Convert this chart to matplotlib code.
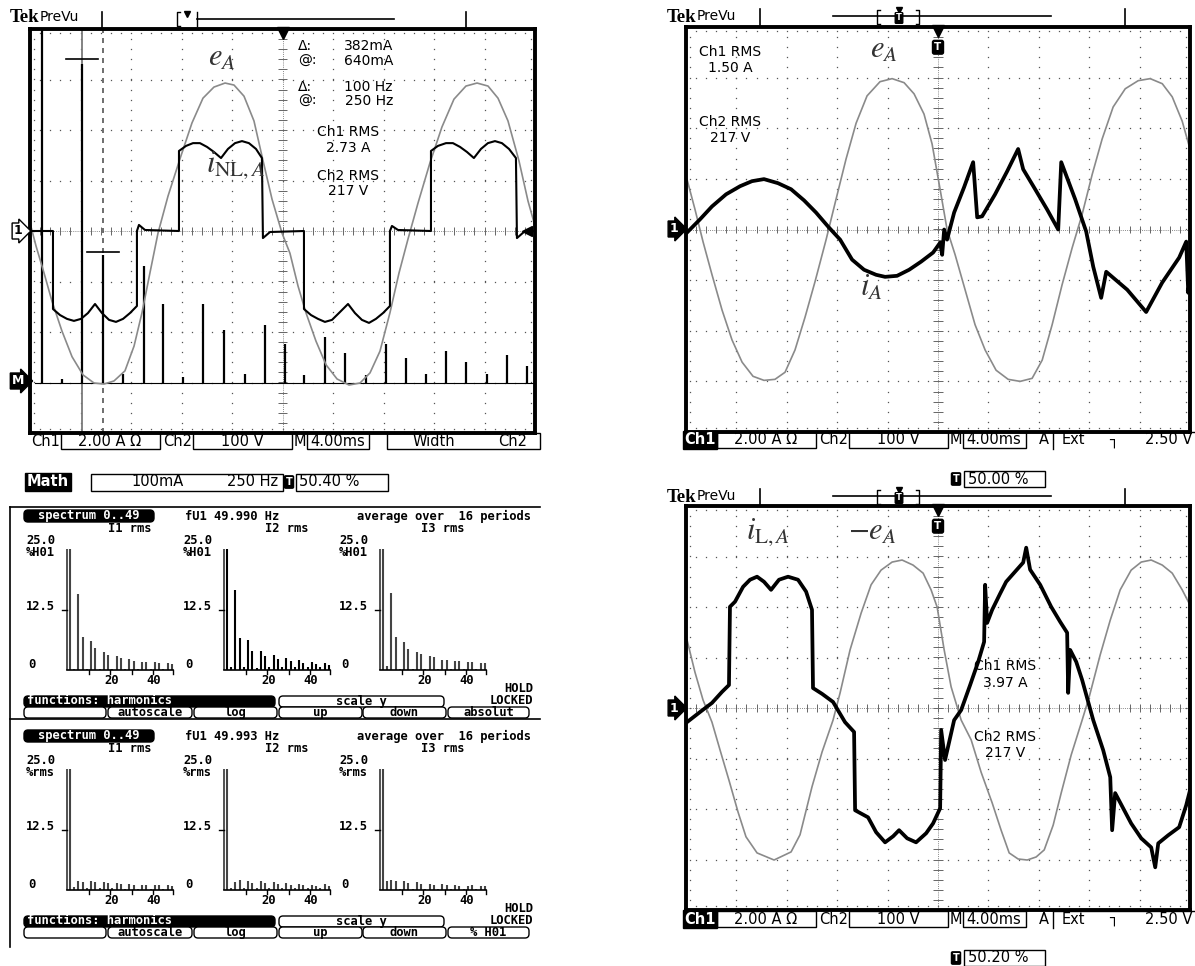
import numpy as np
import matplotlib
matplotlib.use("Agg")
import matplotlib.pyplot as plt
from matplotlib.patches import Rectangle, FancyBboxPatch

plt.rcParams['mathtext.fontset'] = 'stix'

W, H = 1195, 966

# ---------------- top left scope: 4 ms/div, Ch1 2 A/div, Ch2 100 V/div, math 100 mA/div
tl_e_t = [0.0, 0.48, 1.11, 1.74, 2.53, 3.33, 4.20, 5.07, 5.86, 6.65, 7.52, 8.24, 8.87, 9.50,
          10.14, 10.93, 11.88, 12.83, 13.70, 14.57, 15.45, 16.16, 16.95, 17.74, 18.46, 19.17,
          19.96, 20.59, 21.23, 21.86, 22.65, 23.45, 24.32, 25.27, 26.14, 26.93, 27.72, 28.51,
          29.23, 29.94, 30.73, 31.68, 32.63, 33.58, 34.53, 35.41, 36.28, 37.07, 37.86, 38.73,
          39.45, 40.0]
tl_e_v = [16, -30, -83, -139, -198, -249, -285, -301, -303, -297, -277, -228, -162, -83,
          -4, 69, 143, 214, 263, 285, 293, 289, 267, 218, 139, 63,
          -4, -44, -109, -162, -218, -265, -293, -305, -301, -281, -238, -162,
          -83, -16, 55, 135, 206, 261, 287, 293, 287, 263, 218, 139,
          59, 10]

tl_i_t = [0.0, 1.82, 1.82, 2.38, 2.93, 3.48, 4.04, 4.59, 5.15, 5.70, 6.26, 6.81, 7.37, 7.92,
          8.47, 8.47, 8.63, 9.11, 11.80, 11.80, 12.36, 12.91, 13.46, 14.02, 14.57, 15.13,
          15.68, 16.24, 16.79, 17.34, 17.90, 18.37, 18.45, 19.01, 21.70, 21.70, 22.26, 22.81,
          23.36, 23.92, 24.47, 25.19, 25.74, 26.29, 26.85, 27.40, 27.96, 28.51, 28.51, 28.67,
          29.15, 31.76, 31.76, 32.31, 32.95, 33.50, 34.06, 34.61, 35.16, 35.72, 36.27, 36.83,
          37.38, 37.94, 38.49, 38.57, 39.12, 40.0]
tl_i_a = [0.0, 0.0, -3.09, -3.33, -3.48, -3.56, -3.48, -3.25, -2.89, -3.25, -3.52, -3.60, -3.48, -3.25,
          -2.97, 0.0, 0.24, 0.04, 0.0, 3.17, 3.37, 3.48, 3.48, 3.33, 3.13, 2.89,
          3.25, 3.48, 3.56, 3.48, 3.25, 2.89, -0.28, -0.04, 0.0, -3.09, -3.33, -3.48,
          -3.60, -3.52, -3.25, -2.89, -3.25, -3.52, -3.64, -3.48, -3.25, -2.97, 0.0, 0.20,
          0.04, 0.0, 3.17, 3.37, 3.48, 3.48, 3.33, 3.13, 2.89, 3.25, 3.48, 3.56,
          3.48, 3.25, 2.89, -0.28, -0.04, 0.0]

# FFT lines of the math channel (screen position in div, amplitude in mA)
tl_fft_div = [0.23, 0.63, 1.03, 1.45, 1.84, 2.25, 2.63, 3.03, 3.43, 3.84, 4.26, 4.65, 5.05,
              5.43, 5.84, 6.24, 6.65, 7.05, 7.45, 7.84, 8.24, 8.63, 9.05, 9.45, 9.84]
tl_fft_ma = [800, 6, 630, 253, 16, 230, 155, 10, 155, 103, 16, 113, 77,
             14, 91, 59, 14, 77, 48, 16, 63, 40, 16, 55, 32]
cursor_div = [1.03, 1.45]
cursor_ma = [640, 258]

# ---------------- top right scope
tr_e_t = [0.08, 0.71, 1.35, 2.06, 2.86, 3.65, 4.45, 5.32, 6.19, 7.06, 7.86, 8.65, 9.45, 10.24,
          11.12, 11.91, 12.70, 13.50, 14.37, 15.40, 16.36, 17.31, 18.10, 18.89, 19.53, 20.17,
          20.72, 21.36, 22.15, 22.94, 23.74, 24.61, 25.57, 26.52, 27.47, 28.27, 29.06, 29.85,
          30.65, 31.44, 32.24, 33.03, 33.90, 34.86, 35.89, 36.84, 37.80, 38.59, 39.38, 40.0]
tr_e_v = [99, 40, -24, -89, -159, -218, -262, -290, -298, -296, -282, -238, -173, -103,
          -20, 60, 139, 210, 264, 292, 298, 290, 268, 228, 169, 79,
          0, -50, -119, -188, -238, -278, -296, -300, -294, -258, -188, -109,
          -36, 30, 109, 179, 242, 278, 294, 298, 288, 262, 214, 159]

tr_i_t = [0.08, 1.11, 2.06, 3.18, 4.29, 5.24, 6.19, 7.30, 8.34, 9.37, 10.32, 11.27, 12.23, 13.18,
          14.13, 15.09, 15.80, 16.75, 17.71, 18.66, 19.61, 20.17, 20.33, 20.49, 20.72, 21.28,
          22.07, 22.79, 23.11, 23.50, 24.53, 25.49, 26.36, 26.76, 27.71, 28.66, 29.54, 29.78,
          30.89, 31.76, 32.32, 32.95, 33.35, 35.02, 36.52, 37.79, 39.14, 39.70, 39.86, 40.0]
tr_i_a = [-0.12, 0.40, 0.91, 1.39, 1.71, 1.91, 1.99, 1.83, 1.59, 1.15, 0.67, 0.12, -0.40, -1.19,
          -1.59, -1.79, -1.87, -1.83, -1.59, -1.27, -0.91, -0.52, -1.00, 0.0, -0.40, 0.67,
          1.67, 2.66, 0.48, 0.52, 1.39, 2.30, 3.18, 2.38, 1.59, 0.79, 0.0, 2.66,
          1.19, -0.08, -1.47, -2.70, -1.67, -2.38, -3.26, -2.10, -1.11, -0.48, -2.50, -1.87]

# ---------------- bottom right scope
br_e_t = [0.08, 0.71, 1.35, 2.06, 2.70, 3.41, 4.13, 4.76, 5.64, 6.99, 8.34, 9.05, 10.00, 10.80,
          11.67, 12.23, 13.02, 13.90, 14.69, 15.48, 16.36, 17.15, 18.02, 18.82, 19.45, 19.93,
          20.49, 21.04, 21.84, 22.63, 23.42, 24.30, 25.01, 25.65, 26.36, 27.08, 27.79, 28.43,
          29.14, 29.78, 30.57, 31.44, 32.00, 32.87, 33.67, 34.46, 35.33, 36.13, 36.92, 37.80,
          38.59, 39.38, 40.0]
br_e_v = [135, 71, 16, -28, -83, -143, -206, -255, -287, -301, -285, -251, -156, -87,
          -24, 30, 115, 188, 244, 273, 289, 293, 283, 267, 234, 200,
          115, 42, -24, -63, -127, -188, -242, -287, -299, -301, -295, -281,
          -232, -168, -93, -24, 22, 105, 174, 234, 273, 289, 293, 283,
          267, 234, 204]

br_i_t = [0.08, 1.11, 2.06, 2.86, 3.41, 3.49, 3.89, 4.53, 5.08, 5.64, 6.19, 6.75, 7.38, 8.10,
          8.89, 9.53, 10.00, 10.08, 10.80, 11.67, 12.62, 13.34, 13.42, 14.45, 15.09, 15.80,
          16.44, 16.91, 17.55, 18.26, 19.06, 19.61, 20.17, 20.25, 20.56, 21.28, 21.84, 22.55,
          23.19, 23.66, 23.74, 23.90, 24.30, 24.93, 25.41, 26.12, 26.76, 27.00, 27.31, 28.11,
          28.98, 29.70, 30.25, 30.33, 30.49, 30.97, 31.44, 32.32, 33.11, 33.67, 33.82, 34.06,
          34.78, 35.33, 36.13, 36.92, 37.24, 37.48, 38.27, 39.14, 39.70, 40.0]
br_i_a = [-0.56, -0.16, 0.20, 0.64, 0.91, 4.01, 4.21, 4.80, 5.08, 5.20, 5.00, 4.68, 5.08, 5.20,
          5.08, 4.61, 3.89, 0.79, 0.56, 0.24, -0.56, -0.95, -4.05, -4.33, -4.92, -5.32,
          -5.08, -4.84, -5.16, -5.32, -4.96, -4.57, -3.97, -0.87, -2.06, -0.48, -0.08, 0.91,
          1.83, 2.62, 4.88, 3.37, 3.89, 4.53, 5.00, 5.40, 5.76, 6.35, 5.48, 4.88,
          4.01, 3.41, 2.98, 0.60, 2.30, 1.83, 1.11, -0.48, -1.67, -2.74, -4.84, -3.37,
          -4.05, -4.57, -5.16, -5.52, -6.31, -5.36, -5.04, -4.72, -3.85, -3.26]

# ---------------- harmonic analyser (% of H01 / % of rms)
orders = [1, 3, 5, 7, 9, 11, 13, 15, 17, 19, 21, 23, 25, 27, 29, 31, 33, 35, 37, 39, 41, 43, 45, 47, 49]
before_i1 = [100, 0.3, 15.7, 6.8, 0.2, 5.9, 4.5, 0.2, 3.8, 3.1, 0.2, 2.8, 2.5, 0.2, 2.3, 1.9, 0.2, 1.7, 1.6, 0.2, 1.6, 1.4, 0.2, 1.4, 1.2]
before_i2 = [100, 0.7, 16.6, 6.7, 0.7, 6.2, 4.0, 0.5, 4.0, 2.9, 0.7, 3.1, 2.2, 0.7, 2.5, 1.9, 0.7, 2.1, 1.4, 0.7, 1.7, 1.2, 0.7, 1.5, 1.0]
before_i3 = [100, 0.9, 16.0, 6.9, 0.3, 5.7, 4.3, 0.3, 3.7, 3.3, 0.3, 2.8, 2.6, 0.3, 2.1, 2.1, 0.3, 1.8, 1.8, 0.3, 1.6, 1.6, 0.3, 1.4, 1.4]
after_i1 = [100, 0.6, 1.9, 1.7, 0.4, 1.9, 1.7, 0.4, 1.7, 1.4, 0.4, 1.4, 1.2, 0.3, 1.2, 1.0, 0.3, 1.0, 1.0, 0.3, 1.0, 1.0, 0.3, 1.0, 0.8]
after_i2 = [100, 0.5, 1.6, 2.0, 0.5, 1.9, 1.5, 0.5, 1.8, 1.4, 0.5, 1.6, 1.2, 0.4, 1.4, 1.1, 0.4, 1.2, 1.0, 0.4, 1.1, 0.9, 0.4, 1.2, 0.8]
after_i3 = [100, 1.9, 2.0, 1.8, 0.3, 1.8, 1.5, 0.3, 1.6, 1.2, 0.3, 1.3, 1.1, 0.3, 1.2, 1.0, 0.3, 1.0, 0.9, 0.3, 0.9, 1.0, 0.3, 0.8, 0.8]

MS_DIV, A_DIV, V_DIV, MA_DIV = 4.0, 2.0, 100.0, 100.0

fig = plt.figure(figsize=(W / 100, H / 100), dpi=100)
fig.patch.set_facecolor('white')


def px_axes(x0, y0, x1, y1):
    return fig.add_axes([x0 / W, 1 - y1 / H, (x1 - x0) / W, (y1 - y0) / H])


def screen(ax, tmarker):
    ax.set_xlim(0, 10)
    ax.set_ylim(-4, 4)
    ax.set_xticks([])
    ax.set_yticks([])
    ax.set_facecolor('none')
    for s in ax.spines.values():
        s.set_linewidth(2.8)
    fx = np.arange(0, 10.001, 0.2)
    fy = np.arange(-4, 4.001, 0.2)
    dot = dict(ls='none', marker='s', ms=0.9, color='#555555', mew=0)
    for gx in [1, 2, 3, 4, 6, 7, 8, 9]:
        ax.plot(np.full_like(fy, gx), fy, **dot)
    for gy in [-3, -2, -1, 1, 2, 3]:
        ax.plot(fx, np.full_like(fx, gy), **dot)
    ax.plot(fx, np.full_like(fx, 3.93), **dot)
    ax.plot(fx, np.full_like(fx, -3.93), **dot)
    ax.plot(np.full_like(fy, 0.07), fy, **dot)
    ax.plot(np.full_like(fy, 9.93), fy, **dot)
    # centre cross with minor ticks
    ax.plot([0, 10], [0, 0], color='#888888', lw=0.7, ls=(0, (1, 1.2)))
    ax.plot([5, 5], [-4, 4], color='#888888', lw=0.7, ls=(0, (1, 1.2)))
    ax.vlines(fx, -0.07, 0.07, color='#666666', lw=0.7)
    ax.hlines(fy, 4.91, 5.09, color='#666666', lw=0.7)
    ax.plot([5], [3.93], marker='v', ms=8, color='black', clip_on=False)
    if tmarker:
        ax.text(5, 3.6, 'T', ha='center', va='center', color='white', fontsize=7.5,
                fontweight='bold', bbox=dict(boxstyle='round,pad=0.18', fc='black', ec='black'))


# ---- scope screens
ax1 = px_axes(30, 29, 535, 433)
screen(ax1, False)
ax1.axvline(cursor_div[0], color='#7a7a7a', lw=1.3)
ax1.axvline(cursor_div[1], color='#555555', lw=1.2, ls=(0, (3, 3)))
ax1.plot([0.1, 10], [-3, -3], color='black', lw=0.8)
ax1.vlines(tl_fft_div, -3, -3 + np.array(tl_fft_ma) / MA_DIV, color='black', lw=1.6)
for cx, cm in zip(cursor_div, cursor_ma):
    ax1.plot([cx - 0.32, cx + 0.32], [-3 + cm / MA_DIV] * 2, color='black', lw=1.2)
ax1.plot(np.array(tl_e_t) / MS_DIV, np.array(tl_e_v) / V_DIV, color='#8a8a8a', lw=1.2)
ax1.plot(np.array(tl_i_t) / MS_DIV, np.array(tl_i_a) / A_DIV, color='black', lw=1.5)
ax1.plot([9.85], [0], marker='<', ms=7, color='black')

ax2 = px_axes(686, 27, 1190, 432)
screen(ax2, True)
ax2.plot(np.array(tr_e_t) / MS_DIV, np.array(tr_e_v) / V_DIV, color='#8a8a8a', lw=1.2)
ax2.plot(np.array(tr_i_t) / MS_DIV, np.array(tr_i_a) / A_DIV, color='black', lw=2.7)

ax3 = px_axes(686, 506, 1190, 910)
screen(ax3, True)
ax3.plot(np.array(br_e_t) / MS_DIV, np.array(br_e_v) / V_DIV, color='#8a8a8a', lw=1.2)
ax3.plot(np.array(br_i_t) / MS_DIV, np.array(br_i_a) / A_DIV, color='black', lw=2.7)

# ---- harmonic bar charts
panels = [(0, [before_i1, before_i2, before_i3], '%H01', 'absolut', '49.990'),
          (220, [after_i1, after_i2, after_i3], '%rms', '% H01', '49.993')]
axis_x = [68, 225, 381]
for dy, series, unit, lastbtn, f1 in panels:
    for k, vals in enumerate(series):
        ax = px_axes(axis_x[k] - 3, 549 + dy, axis_x[k] + 107, 670 + dy)
        ax.set_xlim(-1.36, 50.5)
        ax.set_ylim(0, 25)
        ax.axis('off')
        col = 'black' if (dy == 0 and k == 1) else '#444444'
        ax.vlines(orders, 0, vals, color=col, lw=1.5)
        ax.plot([-0.4, -0.4], [0, 25], color='#444444', lw=1.3)
        ax.plot([-0.4, 49.6], [0, 0], color='black', lw=1.2, clip_on=False)
        ax.plot([-2.6, -0.4], [12.5, 12.5], color='black', lw=1.0, clip_on=False)
        for tk in [10, 20, 30, 40, 49.6]:
            ax.plot([tk, tk], [0, -0.9], color='black', lw=1.0, clip_on=False)

bg = fig.add_axes([0, 0, 1, 1])
bg.set_xlim(0, W)
bg.set_ylim(H, 0)
bg.axis('off')
bg.set_facecolor('none')

SC = dict(family='DejaVu Sans', fontsize=10, color='black')
ROW = dict(family='DejaVu Sans', fontsize=10.5, color='black')
MONO = dict(family='DejaVu Sans Mono', fontsize=8.7, fontweight='bold', color='black')


def rect(x0, y0, x1, y1, fc='none', lw=1.0):
    bg.add_patch(Rectangle((x0, y0), x1 - x0, y1 - y0, fc=fc, ec='black', lw=lw))


def pill(x0, y0, x1, y1, fc):
    bg.add_patch(FancyBboxPatch((x0, y0), x1 - x0, y1 - y0, boxstyle='round,pad=0,rounding_size=4',
                                fc=fc, ec='black', lw=1.0))


def header(x0, yc):
    bg.text(x0, yc + 1, 'Tek', family='Liberation Serif', fontweight='bold', fontsize=13.5,
            ha='left', va='center')
    bg.text(x0 + 30, yc, 'PreVu', ha='left', va='center', **SC)


def chan_marker(x, y, s, dark):
    bg.text(x, y, s, ha='center', va='center', fontsize=9, fontweight='bold',
            color='white' if dark else 'black',
            bbox=dict(boxstyle='rarrow,pad=0.12', fc='black' if dark else 'white', ec='black', lw=1))


def t_icon(x, y):
    bg.text(x, y, 'T', ha='center', va='center', color='white', fontsize=7, fontweight='bold',
            bbox=dict(boxstyle='round,pad=0.12', fc='black', ec='black'))


# top-left header and readouts
header(10, 17)
bg.plot([102, 102], [12, 28], color='black', lw=1.2)
bg.plot([466, 466], [12, 28], color='black', lw=1.2)
bg.plot([197, 394], [19, 19], color='black', lw=1.2)
bg.plot([180, 177, 177, 180], [12, 12, 26, 26], color='black', lw=1.0)
bg.plot([197, 197], [12, 26], color='black', lw=1.0)
bg.plot([187], [14], marker='v', ms=5, color='black')

chan_marker(18, 231, '1', False)
chan_marker(18, 381, 'M', True)

for y, a, b in [(46, 'Δ:', '382mA'), (61, '@:', '640mA'), (87, 'Δ:', '100 Hz'), (101, '@:', '250 Hz')]:
    bg.text(298, y, a, ha='left', va='center', **SC)
    bg.text(393, y, b, ha='right', va='center', **SC)
for y, s in [(132, 'Ch1 RMS'), (148, '2.73 A'), (176, 'Ch2 RMS'), (191, '217 V')]:
    bg.text(348, y, s, ha='center', va='center', **SC)
bg.text(222, 58, r'$e_A$', ha='center', va='center', fontsize=22, color='#333333')
bg.text(236, 165, r'$i_{\mathrm{NL},A}$', ha='center', va='center', fontsize=22, color='#333333')

bg.text(31, 441, 'Ch1', ha='left', va='center', **ROW)
rect(61, 433, 160, 449)
bg.text(110, 441, '2.00 A Ω', ha='center', va='center', **ROW)
bg.text(163, 441, 'Ch2', ha='left', va='center', **ROW)
rect(193, 433, 292, 449)
bg.text(242, 441, '100 V', ha='center', va='center', **ROW)
bg.text(294, 441, 'M', ha='left', va='center', **ROW)
rect(307, 433, 369, 449)
bg.text(338, 441, '4.00ms', ha='center', va='center', **ROW)
rect(387, 433, 540, 449)
bg.text(434, 441, 'Width', ha='center', va='center', **ROW)
bg.text(527, 441, 'Ch2', ha='right', va='center', **ROW)

bg.text(48, 482, 'Math', ha='center', va='center', color='white', fontsize=10.5, fontweight='bold',
        bbox=dict(boxstyle='square,pad=0.1', fc='black', ec='black'))
rect(91, 474, 283, 491)
bg.text(158, 482, '100mA', ha='center', va='center', **ROW)
bg.text(278, 482, '250 Hz', ha='right', va='center', **ROW)
t_icon(289, 482)
rect(296, 474, 388, 491)
bg.text(299, 482, '50.40 %', ha='left', va='center', **ROW)

# right scopes: header, marker, bottom readout rows
for y0, base, tpct in [(0, 27, '50.00 %'), (480, 506, '50.20 %')]:
    header(667, 16 + y0)
    bg.plot([760, 760], [9 + y0, 25 + y0], color='black', lw=1.2)
    bg.plot([1125, 1125], [9 + y0, 25 + y0], color='black', lw=1.2)
    bg.plot([833, 1051], [16 + y0, 16 + y0], color='black', lw=1.2)
    bg.plot([880, 877, 877, 880], [10 + y0, 10 + y0, 24 + y0, 24 + y0], color='black', lw=1.0)
    bg.plot([916, 919, 919, 916], [10 + y0, 10 + y0, 24 + y0, 24 + y0], color='black', lw=1.0)
    bg.plot([899], [10 + y0], marker='v', ms=4, color='black')
    bg.text(899, 18 + y0, 'T', ha='center', va='center', color='white', fontsize=6, fontweight='bold',
            bbox=dict(boxstyle='round,pad=0.1', fc='black', ec='black'))
    chan_marker(674, base + 202, '1', True)
    ry = base + 413
    bg.text(700, ry, 'Ch1', ha='center', va='center', color='white', fontsize=10.5, fontweight='bold',
            bbox=dict(boxstyle='square,pad=0.08', fc='black', ec='black'))
    rect(717, ry - 8, 816, ry + 8)
    bg.text(766, ry, '2.00 A Ω', ha='center', va='center', **ROW)
    bg.text(819, ry, 'Ch2', ha='left', va='center', **ROW)
    rect(849, ry - 8, 948, ry + 8)
    bg.text(898, ry, '100 V', ha='center', va='center', **ROW)
    bg.text(950, ry, 'M', ha='left', va='center', **ROW)
    rect(963, ry - 8, 1026, ry + 8)
    bg.text(994, ry, '4.00ms', ha='center', va='center', **ROW)
    bg.text(1039, ry, 'A', ha='left', va='center', **ROW)
    bg.plot([1053, 1053, 1195], [ry + 9, ry - 8, ry - 8], color='black', lw=1.0)
    bg.text(1062, ry, 'Ext', ha='left', va='center', **ROW)
    bg.text(1113, ry, '┐', ha='center', va='center', **ROW)
    bg.text(1192, ry, '2.50 V', ha='right', va='center', **ROW)
    ty = ry + 39
    t_icon(956, ty)
    rect(964, ty - 8, 1045, ty + 8)
    bg.text(968, ty, tpct, ha='left', va='center', **ROW)

for y, s in [(52, 'Ch1 RMS'), (68, '1.50 A'), (122, 'Ch2 RMS'), (138, '217 V')]:
    bg.text(730, y, s, ha='center', va='center', **SC)
bg.text(884, 50, r'$e_A$', ha='center', va='center', fontsize=22, color='#333333')
bg.text(871, 287, r'$i_A$', ha='center', va='center', fontsize=22, color='#333333')

for y, s in [(666, 'Ch1 RMS'), (683, '3.97 A'), (737, 'Ch2 RMS'), (753, '217 V')]:
    bg.text(1005, y, s, ha='center', va='center', **SC)
bg.text(768, 532, r'$i_{\mathrm{L},A}$', ha='center', va='center', fontsize=22, color='#333333')
bg.text(872, 532, r'$-e_A$', ha='center', va='center', fontsize=22, color='#333333')

# harmonic analyser frame and texts
bg.plot([10, 540], [507, 507], color='black', lw=1.2)
bg.plot([10, 540], [719, 719], color='black', lw=1.2)
bg.plot([10, 10], [507, 947], color='black', lw=1.2)
for dy, series, unit, lastbtn, f1 in panels:
    pill(24, 510 + dy, 154, 522 + dy, 'black')
    bg.text(89, 516 + dy, 'spectrum 0..49', ha='center', va='center', **dict(MONO, color='white'))
    bg.text(185, 516 + dy, 'fU1 ' + f1 + ' Hz', ha='left', va='center', **MONO)
    bg.text(531, 516 + dy, 'average over  16 periods', ha='right', va='center', **MONO)
    for k, name in enumerate(['I1 rms', 'I2 rms', 'I3 rms']):
        x = axis_x[k]
        bg.text(x + 62, 529 + dy, name, ha='center', va='center', **MONO)
        bg.text(x - 42, 541 + dy, '25.0', ha='left', va='center', **MONO)
        bg.text(x - 42, 553 + dy, unit, ha='left', va='center', **MONO)
        bg.text(x - 42, 606 + dy, '12.5', ha='left', va='center', **MONO)
        bg.text(x - 36, 664 + dy, '0', ha='center', va='center', **MONO)
        bg.text(x + 44, 680 + dy, '20', ha='center', va='center', **MONO)
        bg.text(x + 86, 680 + dy, '40', ha='center', va='center', **MONO)
    bg.text(533, 689 + dy, 'HOLD', ha='right', va='center', **MONO)
    bg.text(533, 701 + dy, 'LOCKED', ha='right', va='center', **MONO)
    pill(24, 696 + dy, 275, 707 + dy, 'black')
    bg.text(27, 701 + dy, 'functions: harmonics', ha='left', va='center', **dict(MONO, color='white'))
    pill(279, 696 + dy, 444, 707 + dy, 'white')
    bg.text(361, 701 + dy, 'scale y', ha='center', va='center', **MONO)
    for (x0, x1), lab in zip([(24, 106), (108, 192), (194, 277), (279, 362), (363, 446), (448, 529)],
                             ['', 'autoscale', 'log', 'up', 'down', lastbtn]):
        pill(x0, 707 + dy, x1, 718 + dy, 'white')
        bg.text((x0 + x1) / 2, 712.5 + dy, lab, ha='center', va='center', **MONO)

fig.savefig('out.png', dpi=100, facecolor='white')
